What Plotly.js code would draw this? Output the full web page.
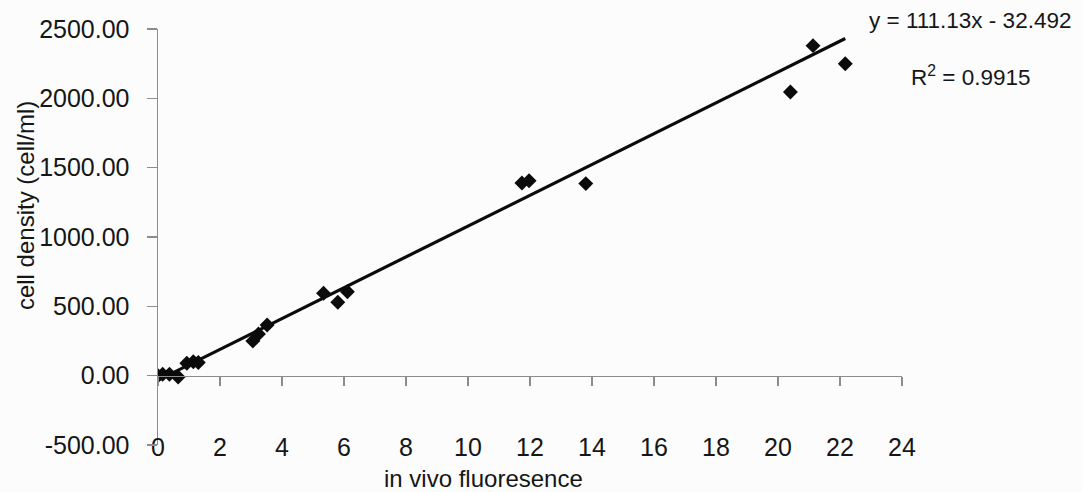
<!DOCTYPE html>
<html>
<head>
<meta charset="utf-8">
<script src="https://cdn.plot.ly/plotly-3.0.1.min.js"></script>
<style>
  html, body { margin: 0; padding: 0; background: #fcfcfc; }
  #chart { width: 1082px; height: 492px; }
</style>
</head>
<body>
<div id="chart"></div>
<script>
// Calibration data: in vivo fluorescence vs. counted cell density
const fluorescence = [0, 0.15, 0.37, 0.65, 0.93, 1.14, 1.3, 3.06, 3.24, 3.52, 5.34, 5.80, 6.11, 11.74, 11.97, 13.8, 20.4, 21.13, 22.17];
const cellDensity  = [0, 10, 10, -10, 90, 100, 95, 250, 300, 365, 595, 530, 605, 1390, 1405, 1385, 2045, 2380, 2250];

// Axis ticks
const xTicks = [0, 2, 4, 6, 8, 10, 12, 14, 16, 18, 20, 22, 24];
const yTicks = [-500, 0, 500, 1000, 1500, 2000, 2500];
const yTickLabels = ['-500.00', '0.00', '500.00', '1000.00', '1500.00', '2000.00', '2500.00'];

// Linear trendline as reported on the chart
const trendSlope = 111.13;
const trendIntercept = -32.492;
const equationLabel = 'y = 111.13x - 32.492';
const r2Label = 'R<sup>2</sup> = 0.9915';

const xTitle = 'in vivo fluoresence';
const yTitle = 'cell density (cell/ml)';

// Trendline spans the range of the measured points
const trendX = [Math.min(...fluorescence), Math.max(...fluorescence)];
const trendY = trendX.map(x => trendSlope * x + trendIntercept);

const axisGray = '#8c8c8c';
const ink = '#161616';
const family = '"Liberation Sans", Arial, sans-serif';

const traces = [
  {
    x: fluorescence,
    y: cellDensity,
    type: 'scatter',
    mode: 'markers',
    marker: { symbol: 'diamond', size: 11.5, color: '#0b0b0b' },
    hoverinfo: 'skip'
  },
  {
    x: trendX,
    y: trendY,
    xaxis: 'x2',
    yaxis: 'y',
    type: 'scatter',
    mode: 'lines',
    line: { color: '#0b0b0b', width: 3.2 },
    hoverinfo: 'skip'
  }
];

const layout = {
  width: 1082,
  height: 492,
  margin: { l: 158, r: 180, t: 28.5, b: 46.5 },
  paper_bgcolor: '#fcfcfc',
  plot_bgcolor: '#fcfcfc',
  showlegend: false,
  hovermode: false,
  font: { family: family, size: 24, color: ink },
  // labels-only axis at the bottom of the plot
  xaxis: {
    range: [0, 24],
    tickvals: xTicks,
    ticktext: xTicks.map(String),
    ticks: '',
    showline: false,
    showgrid: false,
    zeroline: false,
    ticklabelstandoff: -15,
    tickfont: { family: family, size: 25, color: ink }
  },
  // axis line with tick marks crossing at y = 0
  xaxis2: {
    overlaying: 'x',
    anchor: 'free',
    position: 1 / 6,
    side: 'bottom',
    range: [0, 24],
    tickvals: xTicks,
    ticks: 'outside',
    ticklen: 9,
    tickwidth: 1.5,
    tickcolor: axisGray,
    showline: true,
    linecolor: axisGray,
    linewidth: 1.5,
    showticklabels: false,
    showgrid: false,
    zeroline: false
  },
  yaxis: {
    range: [-500, 2500],
    tickvals: yTicks,
    ticktext: yTickLabels,
    ticks: 'outside',
    ticklen: 10,
    tickwidth: 1.5,
    tickcolor: axisGray,
    showline: true,
    linecolor: axisGray,
    linewidth: 1.5,
    showgrid: false,
    zeroline: false,
    ticklabelstandoff: 12,
    tickfont: { family: family, size: 25, color: ink }
  },
  annotations: [
    {
      text: xTitle, xref: 'paper', yref: 'paper',
      x: 0.4375, y: -0.0803, xanchor: 'center', yanchor: 'middle',
      showarrow: false, font: { family: family, size: 24, color: ink }
    },
    {
      text: yTitle, xref: 'paper', yref: 'paper', textangle: -90,
      x: -0.1788, y: 0.5767, xanchor: 'center', yanchor: 'middle',
      showarrow: false, font: { family: family, size: 24, color: ink }
    },
    {
      text: equationLabel, xref: 'paper', yref: 'paper',
      x: 1.0914, y: 1.0204, xanchor: 'center', yanchor: 'middle',
      showarrow: false, font: { family: family, size: 22.5, color: ink }
    },
    {
      text: r2Label, xref: 'paper', yref: 'paper',
      x: 1.0914, y: 0.886, xanchor: 'center', yanchor: 'middle',
      showarrow: false, font: { family: family, size: 22.5, color: ink }
    }
  ]
};

Plotly.newPlot('chart', traces, layout, { staticPlot: true, displayModeBar: false });
</script>
</body>
</html>
